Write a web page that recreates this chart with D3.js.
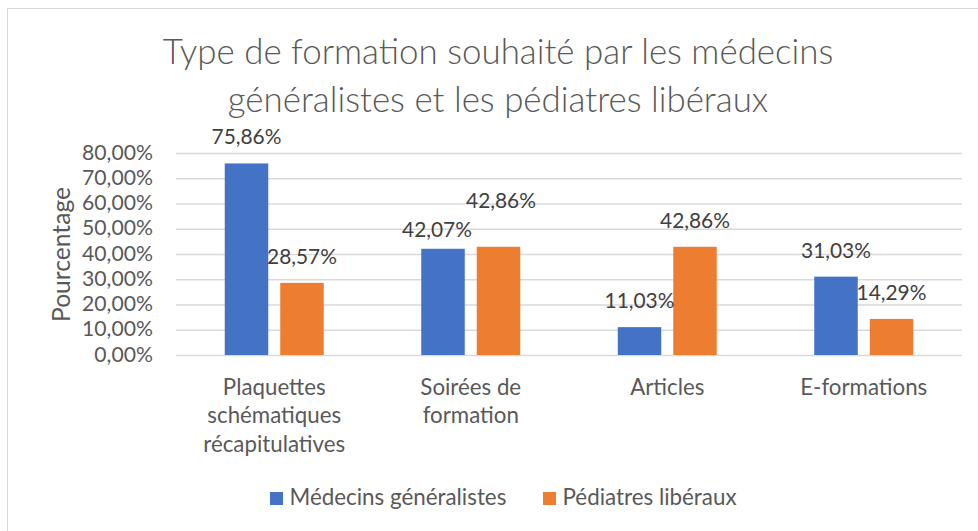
<!DOCTYPE html>
<html>
<head>
<meta charset="utf-8">
<script src="https://cdn.jsdelivr.net/npm/d3@7"></script>
<style>
  html, body { margin: 0; padding: 0; background: #fff; }
  svg { display: block; font-family: Lato, "Open Sans", sans-serif; }
</style>
</head>
<body>
<svg id="chart" width="978" height="531"></svg>
<script>
// Survey results: preferred training format, by type of physician
const titleLines = ["Type de formation souhaité par les médecins", "généralistes et les pédiatres libéraux"];
const categories = ["Plaquettes schématiques récapitulatives", "Soirées de formation", "Articles", "E-formations"];
const seriesNames = ["Médecins généralistes", "Pédiatres libéraux"];
const generalistes = [75.86, 42.07, 11.03, 31.03];
const pediatres = [28.57, 42.86, 42.86, 14.29];
const yTicks = [0, 10, 20, 30, 40, 50, 60, 70, 80];
const yAxisTitle = "Pourcentage";

const colors = ["#4472C4", "#ED7D31"];
const textColor = "#595959";
const gridColor = "#d9d9d9";

const svg = d3.select("#chart");
const plot = { left: 176, right: 962, top: 153, bottom: 355 };

// Pick a font size so that a sample string spans the given width
function fitSize(sample, targetWidth, base, weight) {
  const t = svg.append("text").attr("font-size", base).attr("font-weight", weight || 400).text(sample);
  const w = t.node().getComputedTextLength();
  t.remove();
  return base * targetWidth / w;
}
const titleSize = fitSize(titleLines[0], 671, 30, 300);
const tickSize = fitSize("80,00%", 71, 18);
const catSize = fitSize("récapitulatives", 142, 18);
const labelSize = fitSize("75,86%", 70, 18);
const legendSize = fitSize(seriesNames[0], 217, 18);
const yTitleSize = fitSize(yAxisTitle, 135, 18);

// Chart frame
svg.append("rect")
  .attr("x", 7.5).attr("y", 8.5)
  .attr("width", 1000).attr("height", 600)
  .attr("fill", "#fff").attr("stroke", gridColor).attr("stroke-width", 1);

// Title
svg.append("g").selectAll("text").data(titleLines).join("text")
  .attr("x", 498)
  .attr("y", (d, i) => 64 + i * 48)
  .attr("text-anchor", "middle")
  .attr("font-size", titleSize)
  .attr("font-weight", 300)
  .attr("fill", textColor)
  .text(d => d);

// Scales
const x = d3.scaleBand().domain(categories).range([plot.left, plot.right]).paddingInner(0).paddingOuter(0);
const y = d3.scaleLinear().domain([0, 80]).range([plot.bottom, plot.top]);
const barW = 43.5, barGap = 12;
const xs = d3.scaleBand().domain([0, 1])
  .range([x.bandwidth() / 2 - barW - barGap / 2, x.bandwidth() / 2 + barW + barGap / 2])
  .paddingInner(barGap / (barW + barGap)).paddingOuter(0);

// Gridlines
svg.append("g")
  .attr("transform", `translate(${plot.left},0)`)
  .call(d3.axisLeft(y).tickValues(yTicks).tickSize(-(plot.right - plot.left)).tickFormat(""))
  .call(g => g.select(".domain").remove())
  .call(g => g.selectAll(".tick line").attr("stroke", gridColor).attr("stroke-width", 1.3));

// Y tick labels
const fmt = v => d3.format(".2f")(v).replace(".", ",") + "%";
svg.append("g").selectAll("text").data(yTicks).join("text")
  .attr("x", 153)
  .attr("y", d => y(d) + 6.5)
  .attr("text-anchor", "end")
  .attr("font-size", tickSize)
  .attr("fill", textColor)
  .text(d => fmt(d));

// Y axis title
svg.append("text")
  .attr("transform", `translate(60,254.5) rotate(-90)`)
  .attr("text-anchor", "middle")
  .attr("dominant-baseline", "central")
  .attr("font-size", yTitleSize)
  .attr("fill", textColor)
  .text(yAxisTitle);

// Bars
const rows = categories.map((c, i) => ({ cat: c, vals: [generalistes[i], pediatres[i]] }));
const groups = svg.append("g").selectAll("g").data(rows).join("g")
  .attr("transform", d => `translate(${x(d.cat)},0)`);
groups.selectAll("rect").data(d => d.vals.map((v, s) => ({ v, s }))).join("rect")
  .attr("x", d => xs(d.s))
  .attr("width", xs.bandwidth())
  .attr("y", d => y(d.v))
  .attr("height", d => y(0) - y(d.v))
  .attr("fill", d => colors[d.s]);

// Data labels, two of them moved aside to avoid overlapping
const labelNudge = { "1-0": [-6, 7], "1-1": [2.5, -20] };
groups.each(function (d, ci) {
  d3.select(this).selectAll("text").data(d.vals.map((v, s) => ({ v, s }))).join("text")
    .attr("x", e => xs(e.s) + xs.bandwidth() / 2 + ((labelNudge[ci + "-" + e.s] || [0, 0])[0]))
    .attr("y", e => y(e.v) - 19 + ((labelNudge[ci + "-" + e.s] || [0, 0])[1]))
    .attr("text-anchor", "middle")
    .attr("font-size", labelSize)
    .attr("fill", "#404040")
    .text(e => fmt(e.v));
});

// Category labels, word-wrapped
const catG = svg.append("g");
categories.forEach(c => {
  const words = c.split(" ");
  const lines = [];
  let cur = "";
  const probe = catG.append("text").attr("font-size", catSize);
  words.forEach(w => {
    const test = cur ? cur + " " + w : w;
    probe.text(test);
    if (probe.node().getComputedTextLength() > 165 && cur) { lines.push(cur); cur = w; }
    else cur = test;
  });
  lines.push(cur);
  probe.remove();
  catG.append("g").selectAll("text").data(lines).join("text")
    .attr("x", x(c) + x.bandwidth() / 2)
    .attr("y", (d, i) => 394.5 + i * 28.7)
    .attr("text-anchor", "middle")
    .attr("font-size", catSize)
    .attr("fill", textColor)
    .text(d => d);
});

// Legend
const legendX = [270, 543];
const legend = svg.append("g").selectAll("g").data(seriesNames).join("g")
  .attr("transform", (d, i) => `translate(${legendX[i]},0)`);
legend.append("rect").attr("x", 0).attr("y", 492).attr("width", 13).attr("height", 13)
  .attr("fill", (d, i) => colors[i]);
legend.append("text").attr("x", 19.5).attr("y", 505)
  .attr("font-size", legendSize).attr("fill", textColor)
  .text(d => d);
</script>
</body>
</html>
